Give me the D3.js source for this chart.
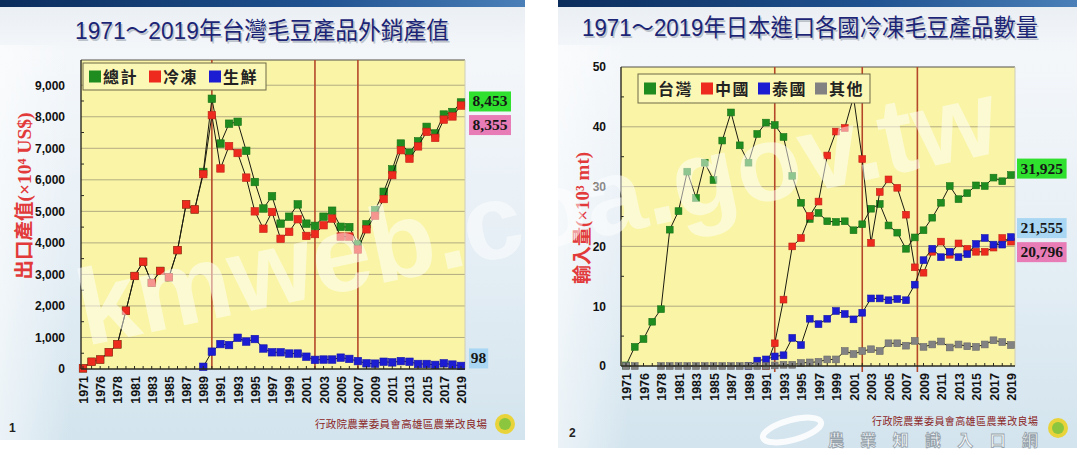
<!DOCTYPE html>
<html><head><meta charset="utf-8">
<script src="https://cdn.jsdelivr.net/npm/d3@7"></script>
<style>body{margin:0;background:#fff}svg{display:block}</style>
</head><body><svg id="c" width="1080" height="455"></svg>
<script>
// ---------------- DATA ----------------
const categories = ["1971","1975","1976","1977","1978","1980","1981","1982","1983","1984","1985","1986","1987","1988","1989","1990","1991","1992","1993","1994","1995","1996","1997","1998","1999","2000","2001","2002","2003","2004","2005","2006","2007","2008","2009","2010","2011","2012","2013","2014","2015","2016","2017","2018","2019"];
const tickLabels = ["1971","1976","1978","1981","1983","1985","1987","1989","1991","1993","1995","1997","1999","2001","2003","2005","2007","2009","2011","2013","2015","2017","2019"];

// Chart 1: export value (x10^4 US$)
const total1  = [20,230,300,530,780,1850,2950,3400,2730,3110,2910,3770,5220,5060,6250,8570,7150,7780,7840,6920,5930,5090,5480,4610,4830,5220,4610,4540,4830,5020,4510,4500,3950,4590,5040,5620,6330,7150,6860,7220,7680,7470,8070,8150,8453];
const frozen1 = [20,230,300,530,780,1850,2950,3400,2730,3110,2910,3770,5220,5060,6180,8050,6360,7070,6850,6070,5000,4450,4980,4130,4350,4750,4220,4280,4560,4770,4200,4200,3790,4430,4860,5390,6150,6940,6670,7060,7520,7330,7910,8010,8355];
const fresh1  = [null,null,null,null,null,null,null,null,null,null,null,null,null,null,70,550,790,760,990,870,950,650,530,530,490,490,390,290,300,300,360,320,250,180,170,230,210,250,230,160,160,130,180,140,98];
const legend1 = ["總計","冷凍","生鮮"];
const yTicks1 = [0,1000,2000,3000,4000,5000,6000,7000,8000,9000];
const markerYears1 = [1990,2002,2007];
const endLabels1 = ["8,453","8,355","98"];
const endValues1 = [8453,8355,98];

// Chart 2: Japan imports (x10^3 mt)
const taiwan2 = [0.1,3.2,4.5,7.4,9.5,22.8,25.9,32.5,28.1,34.0,31.1,37.7,42.4,36.9,34.0,38.8,40.7,40.3,38.3,31.8,27.3,24.6,25.6,24.2,24.1,24.2,22.7,23.7,26.3,27.1,23.5,22.3,19.6,21.5,22.7,24.8,27.3,30.1,27.9,28.9,30.2,30.1,31.5,30.9,31.925];
const china2  = [null,null,null,null,null,null,null,null,null,null,null,null,null,null,null,null,0,3.8,11.1,20.0,21.4,25.1,27.5,35.2,39.2,39.8,45.0,34.6,20.6,29.1,31.2,29.8,25.3,16.5,15.6,19.1,20.8,18.6,20.5,19.6,19.1,19.1,19.8,21.4,20.796];
const thai2   = [null,null,null,null,null,null,null,null,null,null,null,null,null,null,0,0.9,1.1,1.6,1.8,4.7,3.5,7.9,7.0,7.9,9.2,8.7,7.8,8.9,11.3,11.3,11.0,11.2,11.0,13.6,17.7,19.6,18.2,19.1,18.2,18.7,20.4,21.4,20.3,20.3,21.555];
const others2 = [0,0,null,null,0,0,0,0,0,0,0,0,0,0,0,0,0,0.1,0.2,0.2,0.5,0.6,0.7,1.1,1.1,2.5,2.0,2.5,2.8,2.5,3.8,3.8,3.4,4.2,3.2,3.6,4.1,3.1,3.6,3.3,3.2,3.6,4.3,4.0,3.5];
const legend2 = ["台灣","中國","泰國","其他"];
const yTicks2 = [0,10,20,30,40,50];
const markerYears2 = [1992,2002,2008.3];
const endLabels2 = ["31,925","21,555","20,796"];
const endValues2 = [31.925,21.555,20.796];

// ---------------- STYLE ----------------
const C = {green:"#1f8c1f", red:"#ee2a1e", blue:"#1c1cd2", gray:"#828282"};
const CJK = "'Noto Sans CJK TC','Noto Sans CJK SC',sans-serif";
const LAT = "'Liberation Sans',Arial,'Noto Sans CJK TC',sans-serif";

const svg = d3.select("#c");
const defs = svg.append("defs");
const bg = defs.append("linearGradient").attr("id","slideBg").attr("x1",0).attr("y1",0).attr("x2",0).attr("y2",1);
[[0,"#e9eef3"],[0.12,"#f4f7fa"],[0.5,"#e8f0f6"],[1,"#d3e4ee"]].forEach(s=>bg.append("stop").attr("offset",s[0]).attr("stop-color",s[1]));
const bar = defs.append("linearGradient").attr("id","barBg");
[[0,"#0b2d5c"],[0.6,"#1f5290"],[1,"#4a7fb8"]].forEach(s=>bar.append("stop").attr("offset",s[0]).attr("stop-color",s[1]));
const lside = defs.append("linearGradient").attr("id","sideBg");
[[0,"#ffffff",0.55],[1,"#ffffff",0]].forEach(s=>lside.append("stop").attr("offset",s[0]).attr("stop-color",s[1]).attr("stop-opacity",s[2]));

function slide(x,w,h){
  svg.append("rect").attr("x",x).attr("y",0).attr("width",w).attr("height",h).attr("fill","url(#slideBg)");
  svg.append("rect").attr("x",x).attr("y",45).attr("width",70).attr("height",h-45).attr("fill","url(#sideBg)");
  svg.append("rect").attr("x",x).attr("y",0).attr("width",w).attr("height",7).attr("fill","url(#barBg)");
}
slide(0,525,440);
slide(558,519,448);

function title(txt,cx,y,len){
  [[1.5,"#9aa3ad",0.6],[0,"#1c2575",1]].forEach(([o,f,op])=>{
    svg.append("text").attr("x",cx+o).attr("y",y+o).attr("text-anchor","middle")
      .attr("font-family",LAT).attr("font-size",24).attr("fill",f).attr("opacity",op)
      .attr("textLength",len).attr("lengthAdjust","spacingAndGlyphs").text(txt);
  });
}
title("1971～2019年台灣毛豆產品外銷產值",262,39,374);
title("1971～2019年日本進口各國冷凍毛豆產品數量",810,36,456);

function yearPos(x, yr){
  const nums = categories.map(Number);
  let i = nums.findIndex(v=>v>=Math.floor(yr));
  const f = yr - Math.floor(yr);
  return x(categories[i]) + f*x.step();
}

function drawChart(cfg){
  const g = svg.append("g");
  const x = d3.scalePoint().domain(categories).range([cfg.x0,cfg.x1]);
  const y = d3.scaleLinear().domain([0,cfg.yMax]).range([cfg.bottom,cfg.top]);
  g.append("rect").attr("x",cfg.left).attr("y",cfg.top).attr("width",cfg.right-cfg.left).attr("height",cfg.bottom-cfg.top).attr("fill","#faf5a6");
  g.selectAll(".grid").data(cfg.yTicks.filter(t=>t>0 && y(t)>cfg.top+1)).join("line")
    .attr("x1",cfg.left).attr("x2",cfg.right).attr("y1",d=>y(d)).attr("y2",d=>y(d))
    .attr("stroke","#a9a37e").attr("stroke-width",0.9);
  g.append("line").attr("x1",cfg.left).attr("x2",cfg.right).attr("y1",cfg.top).attr("y2",cfg.top).attr("stroke","#55524a").attr("stroke-width",1.2);
  g.append("line").attr("x1",cfg.right).attr("x2",cfg.right).attr("y1",cfg.top).attr("y2",cfg.bottom).attr("stroke","#cfcdb8").attr("stroke-width",1);
  g.selectAll(".ev").data(cfg.markers).join("line")
    .attr("x1",d=>yearPos(x,d)).attr("x2",d=>yearPos(x,d)).attr("y1",cfg.top).attr("y2",cfg.bottom+cfg.evExt)
    .attr("stroke","#b4472a").attr("stroke-width",1.6);
  cfg.series.forEach(s=>{
    const pts = categories.map((c,i)=>({c,v:s.values[i]}));
    const line = d3.line().defined(d=>d.v!=null).x(d=>x(d.c)).y(d=>y(d.v));
    g.append("path").attr("d",line(pts)).attr("fill","none").attr("stroke","#1a1a10").attr("stroke-width",1);
    const m = cfg.msize;
    g.selectAll(null).data(pts.filter(d=>d.v!=null)).join("rect")
      .attr("x",d=>x(d.c)-m/2).attr("y",d=>y(d.v)-m/2).attr("width",m).attr("height",m)
      .attr("fill",s.color).attr("stroke",d3.color(s.color).darker(0.6)).attr("stroke-width",0.6);
  });
  g.append("line").attr("x1",cfg.left).attr("x2",cfg.left).attr("y1",cfg.top).attr("y2",cfg.bottom).attr("stroke","#2a2a20").attr("stroke-width",1.4);
  g.append("line").attr("x1",cfg.left).attr("x2",cfg.right).attr("y1",cfg.bottom).attr("y2",cfg.bottom).attr("stroke","#2a2a20").attr("stroke-width",1.6);
  g.selectAll(".mt").data(d3.pairs(cfg.yTicks).map(p=>(p[0]+p[1])/2)).join("line")
    .attr("x1",cfg.left).attr("x2",cfg.left+3).attr("y1",d=>y(d)).attr("y2",d=>y(d)).attr("stroke","#2a2a20");
  g.selectAll(".xt").data(categories).join("line")
    .attr("x1",d=>x(d)).attr("x2",d=>x(d)).attr("y1",cfg.bottom).attr("y2",cfg.bottom-3).attr("stroke","#2a2a20");
  const ya = d3.axisLeft(y).tickValues(cfg.yTicks).tickSize(0).tickPadding(cfg.yPad).tickFormat(d3.format(","));
  const yg = g.append("g").attr("transform",`translate(${cfg.left},0)`).call(ya);
  yg.select(".domain").remove();
  yg.selectAll("text").attr("font-family",LAT).attr("font-weight","bold").attr("font-size",12).attr("fill","#111");
  const xa = d3.axisBottom(x).tickValues(tickLabels).tickSize(0);
  const xg = g.append("g").attr("transform",`translate(0,${cfg.bottom})`).call(xa);
  xg.select(".domain").remove();
  xg.selectAll("text").attr("transform","rotate(-90)").attr("x",-7).attr("y",0).attr("dy","0.36em")
    .attr("text-anchor","end").attr("font-family",LAT).attr("font-weight","bold").attr("font-size",12.5).attr("fill","#111");
  const L = cfg.legend;
  g.append("rect").attr("x",L.x).attr("y",L.y).attr("width",L.w).attr("height",L.h)
    .attr("fill","#fbf7b4").attr("stroke","#6e6a48").attr("stroke-width",1);
  L.names.forEach((n,i)=>{
    const ix = L.x + 6 + i*L.step;
    g.append("rect").attr("x",ix).attr("y",L.y+L.h/2-6).attr("width",12).attr("height",12).attr("fill",cfg.series[i].color);
    g.append("text").attr("x",ix+14).attr("y",L.y+L.h/2+6).attr("font-family",CJK).attr("font-weight","bold")
      .attr("font-size",16).attr("letter-spacing",1.5).attr("fill","#222").text(n);
  });
  cfg.ends.forEach((e,i)=>{
    const cy = y(e.v) + e.dy;
    const w = e.text.length*7.6+4;
    g.append("rect").attr("x",cfg.endX).attr("y",cy-10).attr("width",w).attr("height",20).attr("fill",e.bg);
    g.append("text").attr("x",cfg.endX+w/2).attr("y",cy+5).attr("text-anchor","middle")
      .attr("font-family","'Liberation Serif','Times New Roman',serif").attr("font-weight","bold").attr("font-size",15.5).attr("fill","#161616").text(e.text);
  });
  g.append("text").attr("transform",`translate(${cfg.ytX},${cfg.ytY}) rotate(-90)`).attr("text-anchor","middle")
    .attr("font-family","'Liberation Serif','Noto Sans CJK TC',serif").attr("font-weight","bold").attr("font-size",cfg.ytSize).attr("fill","#e23a3a")
    .text(cfg.yTitle);
  return g;
}

drawChart({
  left:81,right:465,top:60,bottom:369,x0:83,x1:461,yMax:9800,yTicks:yTicks1,yPad:16,msize:7.5,evExt:0,
  markers:markerYears1,
  series:[{values:total1,color:C.green},{values:frozen1,color:C.red},{values:fresh1,color:C.blue}],
  legend:{x:83,y:63,w:183,h:27,names:legend1,step:60},
  endX:469,
  ends:[{text:endLabels1[0],v:endValues1[0],dy:-1,bg:"#2fe02f"},{text:endLabels1[1],v:endValues1[1],dy:19.5,bg:"#e87cb6"},{text:endLabels1[2],v:endValues1[2],dy:-7.5,bg:"#a9d6f2"}],
  yTitle:"出口產值(×10⁴ US$)",ytX:31,ytY:196,ytSize:19.5
});
drawChart({
  left:621,right:1015,top:67,bottom:366,x0:626,x1:1011,yMax:50,yTicks:yTicks2,yPad:15,msize:6.8,evExt:6,
  markers:markerYears2,
  series:[{values:taiwan2,color:C.green},{values:china2,color:C.red},{values:thai2,color:C.blue},{values:others2,color:C.gray}],
  legend:{x:638,y:74,w:232,h:29,names:legend2,step:57},
  endX:1017,
  ends:[{text:endLabels2[0],v:endValues2[0],dy:-6.5,bg:"#2fe02f"},{text:endLabels2[1],v:endValues2[1],dy:-9,bg:"#a9d6f2"},{text:endLabels2[2],v:endValues2[2],dy:10.5,bg:"#e87cb6"}],
  yTitle:"輸入量(×10³ mt)",ytX:589,ytY:218,ytSize:19
});

// slide numbers & footers
svg.append("text").attr("x",9).attr("y",432).attr("font-family",LAT).attr("font-weight","bold").attr("font-size",12).attr("fill","#222").text("1");
svg.append("text").attr("x",569).attr("y",437).attr("font-family",LAT).attr("font-weight","bold").attr("font-size",12).attr("fill","#222").text("2");
svg.append("text").attr("x",315).attr("y",428).attr("font-family",CJK).attr("font-size",10.5).attr("fill","#8a2424").attr("textLength",172).text("行政院農業委員會高雄區農業改良場");
svg.append("text").attr("x",872).attr("y",425).attr("font-family",CJK).attr("font-size",10).attr("fill","#8a2424").attr("textLength",166).text("行政院農業委員會高雄區農業改良場");
[[505,424],[1058,428]].forEach(p=>{
  svg.append("circle").attr("cx",p[0]).attr("cy",p[1]).attr("r",10).attr("fill","#e8d43a");
  svg.append("circle").attr("cx",p[0]).attr("cy",p[1]).attr("r",6).attr("fill","#8cc63f");
});
// site logo
svg.append("ellipse").attr("cx",792).attr("cy",430).attr("rx",30).attr("ry",10).attr("transform","rotate(-15,792,430)")
  .attr("fill","none").attr("stroke","#ffffff").attr("stroke-width",6).attr("opacity",0.85);
svg.append("text").attr("x",828).attr("y",446).attr("font-family",CJK).attr("font-weight","bold").attr("font-size",16)
  .attr("fill","#ffffff").attr("stroke","#8f9aa4").attr("stroke-width",0.8).attr("opacity",0.9).attr("textLength",210).text("農業知識入口網");

// watermark
svg.append("text").attr("transform","translate(86,346) rotate(-12)").attr("font-family",LAT).attr("font-weight","bold")
  .attr("font-size",107).attr("fill","#ffffff").attr("opacity",0.5).text("kmweb.coa.gov.tw");
</script></body></html>
